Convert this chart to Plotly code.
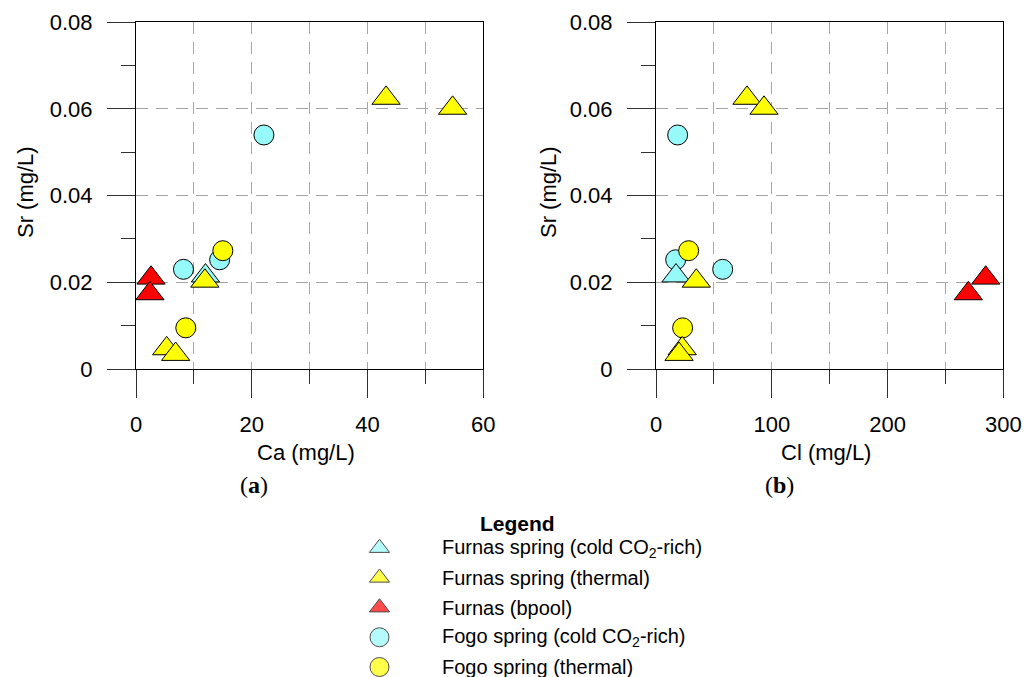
import plotly.graph_objects as go

# ---------------- data ----------------
furnas_cold_ca = [12.0]
furnas_cold_cl = [17.3]
furnas_cold_sr = [0.0215]

furnas_thermal_ca = [43.2, 54.7, 11.9, 5.3, 6.85]
furnas_thermal_cl = [78.6, 93.3, 34.8, 22.7, 19.9]
furnas_thermal_sr = [0.0625, 0.0602, 0.0203, 0.0047, 0.0034]

furnas_bpool_ca = [2.6, 2.4]
furnas_bpool_cl = [284.8, 269.8]
furnas_bpool_sr = [0.0210, 0.0174]

fogo_cold_ca = [22.1, 8.2, 14.45]
fogo_cold_cl = [18.7, 57.6, 17.0]
fogo_cold_sr = [0.054, 0.023, 0.0252]

fogo_thermal_ca = [15.0, 8.6]
fogo_thermal_cl = [28.2, 23.0]
fogo_thermal_sr = [0.0273, 0.0095]

legend_labels = [
    "Furnas spring (cold CO<sub>2</sub>-rich)",
    "Furnas spring (thermal)",
    "Furnas (bpool)",
    "Fogo spring (cold CO<sub>2</sub>-rich)",
    "Fogo spring (thermal)",
]
legend_symbols = ["triangle-up", "triangle-up", "triangle-up", "circle", "circle"]

CYAN = "#96FAFA"
YELLOW = "#FFFF00"
RED = "#FF0000"
legend_colors = [CYAN, YELLOW, RED, CYAN, YELLOW]

W, H = 1036, 677
FONT = "Liberation Sans, Arial, sans-serif"

TRI = 24.5
CIR = 20

series = [
    # (x for a, x for b, y, symbol, color, size)  - circles first, triangles on top
    (fogo_cold_ca, fogo_cold_cl, fogo_cold_sr, "circle", CYAN, CIR),
    (fogo_thermal_ca, fogo_thermal_cl, fogo_thermal_sr, "circle", YELLOW, CIR),
    (furnas_cold_ca, furnas_cold_cl, furnas_cold_sr, "triangle-up", CYAN, TRI),
    (furnas_thermal_ca, furnas_thermal_cl, furnas_thermal_sr, "triangle-up", YELLOW, TRI),
    (furnas_bpool_ca, furnas_bpool_cl, furnas_bpool_sr, "triangle-up", RED, TRI),
]

fig = go.Figure()
for xa, xb, yv, sym, col, sz in series:
    mk = dict(symbol=sym, color=col, size=sz, line=dict(color="black", width=1))
    fig.add_trace(go.Scatter(x=xa, y=yv, mode="markers", marker=mk, xaxis="x", yaxis="y",
                             showlegend=False, cliponaxis=False, hoverinfo="skip"))
    fig.add_trace(go.Scatter(x=xb, y=yv, mode="markers", marker=mk, xaxis="x2", yaxis="y2",
                             showlegend=False, cliponaxis=False, hoverinfo="skip"))

# manual legend: markers on a hidden axis pair, rows indexed 0..4
fig.add_trace(go.Scatter(
    x=[0] * len(legend_labels), y=list(range(len(legend_labels))), mode="markers",
    marker=dict(symbol=legend_symbols, color=legend_colors,
                size=[17.5, 17.5, 17.5, 19, 19], line=dict(color="black", width=1)),
    xaxis="x3", yaxis="y3", showlegend=False, cliponaxis=False, hoverinfo="skip"))

GRID = "#a6a6a6"
TICKC = "#303030"
DASH = "12px,8px"


def px_x(p):
    return p / W


def px_y(p):
    return 1 - p / H


def xaxis_cfg(x0, x1, rng, dt, mdt, anchor):
    return dict(
        domain=[px_x(x0), px_x(x1)], range=rng, anchor=anchor,
        tick0=0, dtick=dt, ticks="outside", ticklen=28, tickwidth=1, tickcolor=TICKC,
        showline=True, linecolor="black", linewidth=1, mirror=True,
        showgrid=True, gridcolor=GRID, gridwidth=1, griddash=DASH,
        zeroline=False, automargin=False, fixedrange=True,
        tickfont=dict(family=FONT, size=22, color="black"), ticklabelstandoff=8,
        minor=dict(tick0=0, dtick=mdt, ticks="outside", ticklen=14, tickwidth=1, tickcolor=TICKC,
                   showgrid=True, gridcolor=GRID, gridwidth=1, griddash=DASH),
    )


def yaxis_cfg(anchor):
    return dict(
        domain=[px_y(369), px_y(22.3)], range=[0, 0.08], anchor=anchor,
        tick0=0, dtick=0.02, ticks="outside", ticklen=28, tickwidth=1, tickcolor=TICKC,
        showline=True, linecolor="black", linewidth=1, mirror=True,
        showgrid=True, gridcolor=GRID, gridwidth=1, griddash=DASH,
        zeroline=False, automargin=False, fixedrange=True,
        tickfont=dict(family=FONT, size=22, color="black"), ticklabelstandoff=10,
        minor=dict(tick0=0, dtick=0.01, ticks="outside", ticklen=14, tickwidth=1, tickcolor=TICKC,
                   showgrid=False),
    )


n_rows = len(legend_labels)
fig.update_layout(
    width=W, height=H, template="none",
    paper_bgcolor="white", plot_bgcolor="white",
    margin=dict(l=0, r=0, t=0, b=0),
    showlegend=False,
    xaxis=xaxis_cfg(136, 483.3, [0, 60], 20, 10, "y"),
    yaxis=yaxis_cfg("x"),
    xaxis2=xaxis_cfg(656, 1003.3, [0, 300], 100, 50, "y2"),
    yaxis2=yaxis_cfg("x2"),
    xaxis3=dict(domain=[px_x(369.5), px_x(389.5)], range=[-1, 1], visible=False,
                anchor="y3", fixedrange=True),
    yaxis3=dict(domain=[px_y(667), px_y(548)], range=[n_rows - 1, 0], visible=False,
                anchor="x3", fixedrange=True),
)

ann = []
txt = dict(family=FONT, size=22, color="black")
ann.append(dict(text="Ca (mg/L)", x=px_x(306), y=px_y(453), xref="paper", yref="paper",
                showarrow=False, xanchor="center", yanchor="middle", font=txt))
ann.append(dict(text="Cl (mg/L)", x=px_x(826), y=px_y(453), xref="paper", yref="paper",
                showarrow=False, xanchor="center", yanchor="middle", font=txt))
for xc in (25, 548):
    ann.append(dict(text="Sr (mg/L)", x=px_x(xc), y=px_y(192), xref="paper", yref="paper",
                    showarrow=False, xanchor="center", yanchor="middle", textangle=-90, font=txt))
serif = dict(family="Liberation Serif, Times New Roman, serif", size=24, color="black")
ann.append(dict(text="(<b>a</b>)", x=px_x(254), y=px_y(485), xref="paper", yref="paper",
                showarrow=False, xanchor="center", yanchor="middle", font=serif))
ann.append(dict(text="(<b>b</b>)", x=px_x(779), y=px_y(485), xref="paper", yref="paper",
                showarrow=False, xanchor="center", yanchor="middle", font=serif))
ann.append(dict(text="<b>Legend</b>", x=px_x(517), y=px_y(523), xref="paper", yref="paper",
                showarrow=False, xanchor="center", yanchor="middle",
                font=dict(family=FONT, size=21, color="black")))
for i, lab in enumerate(legend_labels):
    ann.append(dict(text=lab, x=px_x(440), y=i, xref="paper", yref="y3",
                    showarrow=False, xanchor="left", yanchor="middle",
                    font=dict(family=FONT, size=20, color="black")))
fig.update_layout(annotations=ann)

fig.write_html("out.html")
